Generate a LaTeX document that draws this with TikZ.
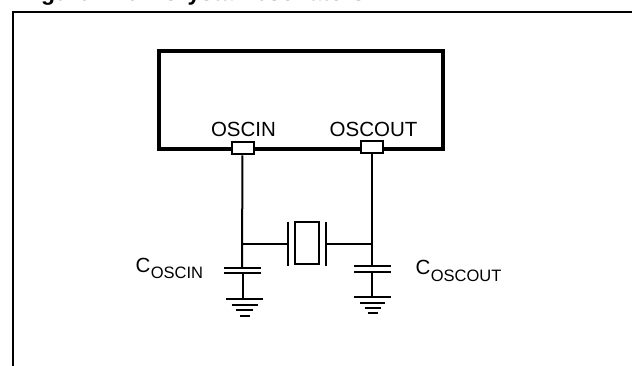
\documentclass[tikz,border=0pt]{standalone}
\usepackage{fontspec}
\setmainfont{Liberation Sans}
\begin{document}
\begin{tikzpicture}[x=1pt,y=-1pt,line width=2pt]
    \tikzstyle{chip}=[draw,line width=3.5pt,minimum width=284pt,minimum height=98pt,inner sep=0pt]
    \tikzstyle{pin}=[draw,fill=white,minimum width=22pt,minimum height=12pt,inner sep=0pt]
    \tikzstyle{annot}=[inner sep=0pt,font=\fontsize{20.5}{20.5}\selectfont]

    \newcommand{\capname}[2]{C\kern0.5pt\raisebox{#1}{\fontsize{16.5}{16.5}\selectfont #2}}

    \useasboundingbox (0,0) rectangle (632,366);

    % Draw the title, cut off by the top of the page
    \node[annot,anchor=base west,font=\fontsize{23}{23}\bfseries\selectfont] (title) at (19.6,0.8)
        {Figure\hspace{35pt}6.\hspace{17pt}Crystal resonators};

    % Draw the frame
    \coordinate (F-1) at (13,366);
    \coordinate (F-2) at (13,12);
    \coordinate (F-3) at (632,12);
    \draw (F-1) -- (F-2) -- (F-3);

    % Draw the chip and its pins
    \node[chip] (MCU) at (301,100) {};
    \node[pin] (P-in) at (242.5,148.5) {};
    \node[pin] (P-out) at (372,147.5) {};
    \node[annot,anchor=base] (L-in) at (243.5,136.7) {OSCIN};
    \node[annot,anchor=base] (L-out) at (373.5,136.7) {OSCOUT};

    % Draw the crystal
    \node[draw,minimum width=24pt,minimum height=42pt,inner sep=0pt] (X) at (307,243.5) {};
    \coordinate (X-l) at (288,244);
    \coordinate (X-r) at (326,244);
    \draw (288,222) -- (288,266);
    \draw (326,222) -- (326,266);

    % Junctions on the two wires
    \coordinate (J-in) at (242,244);
    \coordinate (J-out) at (372,244);

    % Draw the capacitors
    \coordinate (C1-t) at (242,268);
    \coordinate (C1-b) at (243,273);
    \coordinate (C2-t) at (372,266);
    \coordinate (C2-b) at (372,272);
    \draw (224,268) -- (261,268);
    \draw (224,273) -- (261,273);
    \draw (354,266) -- (391,266);
    \draw (354,272) -- (391,272);

    % Draw the grounds
    \coordinate (G1) at (243,299);
    \coordinate (G2) at (372,297);
    \foreach \dy / \w in {0/18.5,5.5/13,11/8.5,16.5/5}
        \draw (244.5-\w,299+\dy) -- (244.5+\w,299+\dy);
    \foreach \dy / \w in {0/18.5,5.5/12.5,11/8,16/5}
        \draw (372.5-\w,297+\dy) -- (372.5+\w,297+\dy);

    % Connect everything
    \draw (P-in) -- (C1-t);
    \draw (P-out) -- (C2-t);
    \draw (J-in) -- (X-l);
    \draw (X-r) -- (J-out);
    \draw (C1-b) -- (G1);
    \draw (C2-b) -- (G2);

    % Annotate the capacitors
    \node[annot,anchor=base west] (C-in) at (134.5,272.7) {\capname{-5.6pt}{OSCIN}};
    \node[annot,anchor=base west] (C-out) at (414.5,274) {\capname{-7pt}{OSCOUT}};
\end{tikzpicture}
\end{document}
